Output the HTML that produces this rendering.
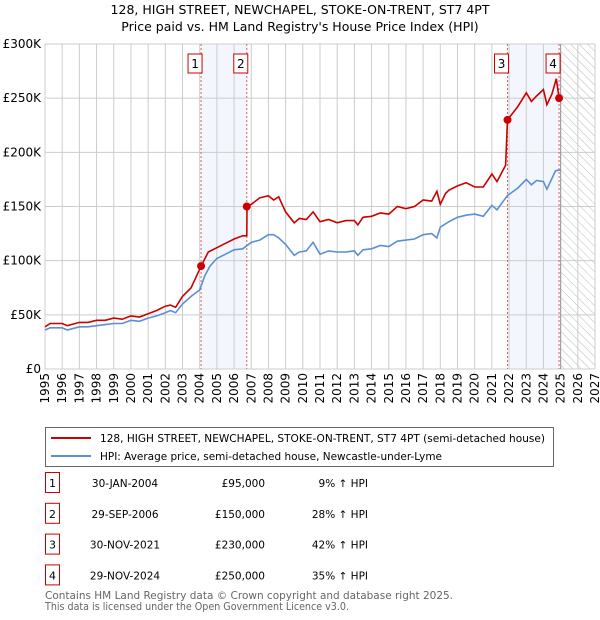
<!DOCTYPE html>
<html><head><meta charset="utf-8"><style>
body{margin:0;background:#fff;font-family:"DejaVu Sans","Liberation Sans",sans-serif;}
#wrap{position:relative;width:600px;height:620px;overflow:hidden}
svg text{font-family:"DejaVu Sans","Liberation Sans",sans-serif}
</style></head><body><div id="wrap">
<svg id="chart" width="600" height="620" style="position:absolute;left:0;top:0">
<defs><pattern id="hatch" width="6" height="6" patternUnits="userSpaceOnUse" patternTransform="rotate(-45)"><line x1="0" y1="0" x2="0" y2="6" stroke="#bbb" stroke-width="1"/></pattern></defs>
</svg>
</div>
<script>
const years=[1995,1996,1997,1998,1999,2000,2001,2002,2003,2004,2005,2006,2007,2008,2009,2010,2011,2012,2013,2014,2015,2016,2017,2018,2019,2020,2021,2022,2023,2024,2025,2026,2027];
const yTicks=[0,50000,100000,150000,200000,250000,300000];
const yTickLabels=["£0","£50K","£100K","£150K","£200K","£250K","£300K"];
const hpiT=[1995,1995.3,1996,1996.3,1997,1997.5,1998,1998.5,1999,1999.5,2000,2000.5,2001,2001.5,2002,2002.3,2002.6,2003,2003.5,2004,2004.3,2004.6,2005,2005.5,2006,2006.5,2007,2007.5,2008,2008.3,2008.6,2009,2009.5,2009.8,2010.2,2010.6,2011,2011.5,2012,2012.5,2013,2013.2,2013.5,2014,2014.5,2015,2015.5,2016,2016.5,2017,2017.5,2017.8,2018,2018.5,2019,2019.5,2020,2020.5,2021,2021.3,2021.9,2022.5,2023,2023.3,2023.6,2024,2024.2,2024.7,2025];
const hpiV=[36,38,38,36,39,39,40,41,42,42,45,44,47,49,52,54,52,60,67,73,86,95,102,106,110,111,117,119,124,124,121,115,105,108,109,117,106,109,108,108,109,105,110,111,114,113,118,119,120,124,125,121,131,136,140,142,143,141,151,147,160,167,175,170,174,173,166,183,184];
const priceT=[1995,1995.3,1996,1996.3,1997,1997.5,1998,1998.5,1999,1999.5,2000,2000.5,2001,2001.5,2002,2002.3,2002.6,2003,2003.5,2004.08,2004.5,2005,2005.5,2006,2006.5,2006.74,2006.75,2007,2007.5,2008,2008.3,2008.6,2009,2009.5,2009.8,2010.2,2010.6,2011,2011.5,2012,2012.5,2013,2013.2,2013.5,2014,2014.5,2015,2015.5,2016,2016.5,2017,2017.5,2017.8,2018,2018.3,2018.5,2019,2019.5,2020,2020.5,2021,2021.3,2021.8,2021.91,2022.5,2023,2023.3,2023.6,2024,2024.2,2024.5,2024.75,2024.91];
const priceV=[39,42,42,40,43,43,45,45,47,46,49,48,51,54,58,59,57,67,75,95,108,112,116,120,123,123,150,152,158,160,156,159,145,135,139,138,145,136,138,135,137,137,133,140,141,144,143,150,148,150,156,155,164,152,162,165,169,172,168,168,180,173,188,230,242,255,247,252,258,244,254,268,250];
const sales=[{n:"1",t:2004.08,v:95},{n:"2",t:2006.74,v:150},{n:"3",t:2021.91,v:230},{n:"4",t:2024.91,v:250}];
const saleDates=["30-JAN-2004","29-SEP-2006","30-NOV-2021","29-NOV-2024"];
const salePrices=["£95,000","£150,000","£230,000","£250,000"];
const saleHpi=["9% ↑ HPI","28% ↑ HPI","42% ↑ HPI","35% ↑ HPI"];
const X0=45,X1=595,Y0=369,Y1=44;
const xs=t=>X0+(t-1995)/(2027-1995)*(X1-X0);
const ys=v=>Y0-v/300000*(Y0-Y1);
const NS="http://www.w3.org/2000/svg";
const svg=document.getElementById('chart');
function mk(tag,at,parent){const e=document.createElementNS(NS,tag);for(const k in at)e.setAttribute(k,at[k]);(parent||svg).appendChild(e);return e;}
let s1=mk('rect',{x:xs(sales[0].t),y:Y1,width:xs(sales[1].t)-xs(sales[0].t),height:Y0-Y1,fill:'#eef3fc',opacity:0.7});

let s2=mk('rect',{x:xs(sales[2].t),y:Y1,width:xs(sales[3].t)-xs(sales[2].t),height:Y0-Y1,fill:'#eef3fc',opacity:0.7});

let hz=mk('rect',{x:xs(2025),y:Y1,width:X1-xs(2025),height:Y0-Y1,fill:'url(#hatch)'});

years.forEach(y=>{let l=mk('line',{x1:xs(y),x2:xs(y),y1:Y1,y2:Y0,stroke:'#ccc','stroke-width':1});

let t=mk('text',{x:0,y:0,'font-size':12,'text-anchor':'end',transform:`translate(${xs(y)+4},${Y0+4}) rotate(-90)`});t.textContent=y;
});
yTicks.forEach((v,i)=>{let l=mk('line',{x1:X0,x2:X1,y1:ys(v),y2:ys(v),stroke:'#ccc','stroke-width':1});

let t=mk('text',{x:X0-4,y:ys(v)+4,'font-size':12,'text-anchor':'end'});t.textContent=yTickLabels[i];
});
let bl=mk('line',{x1:xs(2025),x2:xs(2025),y1:Y1,y2:Y0,stroke:'#999','stroke-width':1});

sales.forEach(s=>{let l=mk('line',{x1:xs(s.t),x2:xs(s.t),y1:Y1,y2:Y0,stroke:'#e06060','stroke-width':1,'stroke-dasharray':'2,2'});

let r=mk('rect',{x:xs(s.t)-13,y:54,width:14,height:19,fill:'#fff',stroke:'#c00'});

let t=mk('text',{x:xs(s.t)-6,y:68,'font-size':12,'text-anchor':'middle'});t.textContent=s.n;
});
function path(T,V,c,name){let d=T.map((t,i)=>(i?'L':'M')+xs(t).toFixed(1)+','+ys(V[i]*1000).toFixed(1)).join('');
let p=mk('path',{d,fill:'none',stroke:c,'stroke-width':1.6});}
path(hpiT,hpiV,'#5b8fd4','hpi-line');
path(priceT,priceV,'#cc0000','price-line');
sales.forEach(s=>{let c=mk('circle',{cx:xs(s.t),cy:ys(s.v*1000),r:4,fill:'#cc0000'});
});
[["128, HIGH STREET, NEWCHAPEL, STOKE-ON-TRENT, ST7 4PT",14],["Price paid vs. HM Land Registry's House Price Index (HPI)",31]].forEach((a,i)=>{let t=mk('text',{x:300,y:a[1],'font-size':12.5,'text-anchor':'middle'});t.textContent=a[0];
});
let lg=mk('rect',{x:45.5,y:427.5,width:508,height:39,fill:'#fff',stroke:'#666'});

[["#cc0000","128, HIGH STREET, NEWCHAPEL, STOKE-ON-TRENT, ST7 4PT (semi-detached house)",438],["#5b8fd4","HPI: Average price, semi-detached house, Newcastle-under-Lyme",456]].forEach((a,i)=>{
let l=mk('line',{x1:51,x2:91,y1:a[2],y2:a[2],stroke:a[0],'stroke-width':2});
let t=mk('text',{x:100,y:a[2]+4,'font-size':10.5,textLength:i?342:445,lengthAdjust:'spacingAndGlyphs'});t.textContent=a[1];});
sales.forEach((s,i)=>{const y=483+i*30.8;
let r=mk('rect',{x:45.5,y:y-10.5,width:14,height:20,fill:'#fff',stroke:'#c00'});
let t=mk('text',{x:52.5,y:y+4,'font-size':11,'text-anchor':'middle'});t.textContent=s.n;
let d=mk('text',{x:125,y:y+4,'font-size':10.5,'text-anchor':'middle'});d.textContent=saleDates[i];
let p=mk('text',{x:265,y:y+4,'font-size':10.5,'text-anchor':'end'});p.textContent=salePrices[i];
let h=mk('text',{x:368,y:y+4,'font-size':10.5,'text-anchor':'end'});h.textContent=saleHpi[i];});
[["Contains HM Land Registry data © Crown copyright and database right 2025.",599,408],["This data is licensed under the Open Government Licence v3.0.",610,304]].forEach(a=>{let t=mk('text',{x:45,y:a[1],'font-size':11,fill:'#666',textLength:a[2],lengthAdjust:'spacingAndGlyphs'});t.textContent=a[0];});
</script></body></html>
